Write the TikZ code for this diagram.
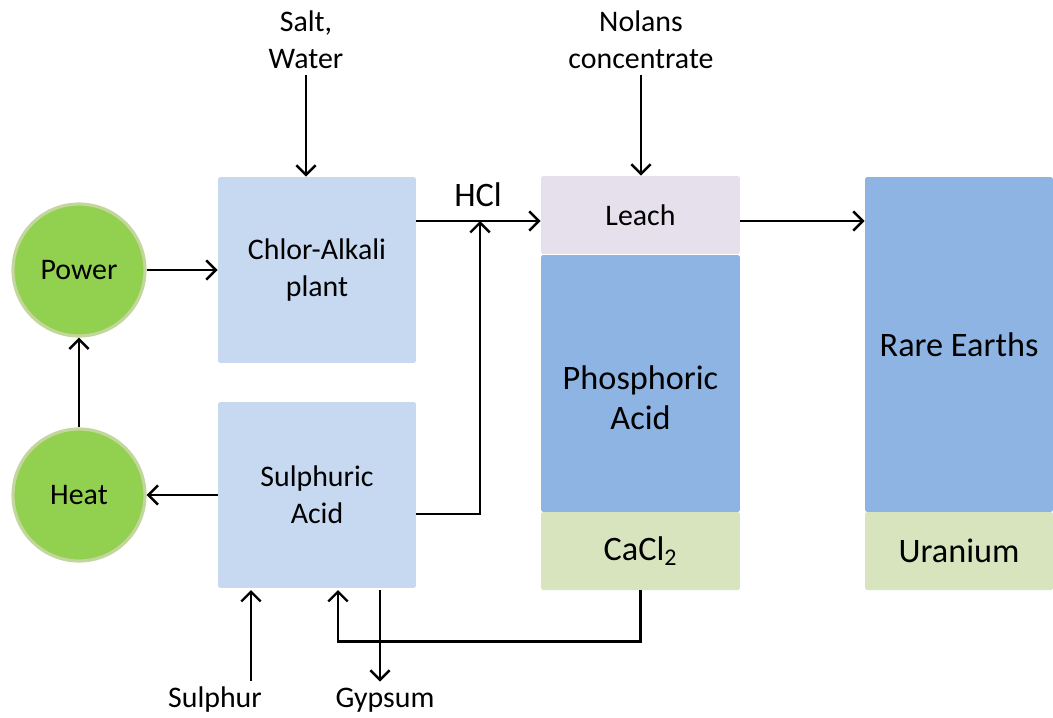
\documentclass[tikz,border=0pt]{standalone}
\usepackage{fontspec}
\setmainfont{Carlito}
\usepackage{tikz}
\usetikzlibrary{arrows.meta,calc,positioning}

\definecolor{boxblue}{HTML}{C6D9F1}
\definecolor{deepblue}{HTML}{8EB4E3}
\definecolor{leachcol}{HTML}{E5E0EC}
\definecolor{palegreen}{HTML}{D7E4BD}
\definecolor{ballgreen}{HTML}{92D050}
\definecolor{ringgreen}{HTML}{C3D69B}

\tikzset{
  proc/.style={fill=boxblue,rounded corners=1pt,minimum width=3.96cm,minimum height=3.72cm,align=center,font=\fontsize{17}{21}\selectfont,inner sep=0pt},
  layer/.style={rounded corners=1pt,minimum width=#1,inner sep=0pt,align=center},
  ball/.style={circle,fill=ballgreen,draw=ringgreen,line width=1.8pt,minimum size=2.64cm,font=\fontsize{17}{21}\selectfont},
  lbl/.style={align=center,font=\fontsize{17}{21}\selectfont},
  flow/.style={-{Straight Barb[length=5.5pt,width=11pt]},line width=1.4pt}
}

\begin{document}
\begin{tikzpicture}[x=0.02cm,y=-0.02cm]
\useasboundingbox (0,0) rectangle (1053,717);

\node[ball] (power) at (79,270) {Power};
\node[ball] (heat) at (79,495) {Heat};

\node[proc] (chlor) at (317,270) {Chlor-Alkali\\plant};
\node[proc] (sulph) at (317,495) {Sulphuric\\Acid};

\node[layer=3.98cm,fill=leachcol,minimum height=1.56cm,font=\fontsize{17}{21}\selectfont] (leach) at (640.5,215) {Leach};
\node[layer=3.98cm,fill=deepblue,minimum height=5.14cm,
  label={[align=center,yshift=-0.28cm,font=\fontsize{19.5}{23}\selectfont]center:Phosphoric\\Acid}] (phos) at (640.5,383.5) {};
\node[layer=3.98cm,fill=palegreen,minimum height=1.56cm,font=\fontsize{19.5}{23}\selectfont] (cacl) at (640.5,551) {CaCl\textsubscript{2}};

\node[layer=3.76cm,fill=deepblue,minimum height=6.7cm,font=\fontsize{19.5}{23}\selectfont] (rare) at (959,344.5) {Rare Earths};
\node[layer=3.76cm,fill=palegreen,minimum height=1.56cm,font=\fontsize{19.5}{23}\selectfont] (uran) at (959,551) {Uranium};

\node[lbl] (salt) at (306,40) {Salt,\\Water};
\node[lbl] (nolans) at (641,40) {Nolans\\concentrate};
\node[lbl,font=\fontsize{19.5}{23}\selectfont] (hcllbl) at (478,195) {HCl};
\node[lbl] (sulphur) at (215,700) {Sulphur};
\node[lbl] (gypsum) at (385,700) {Gypsum};

\coordinate (hcl) at (480,221);
\coordinate (sin) at (251,590);
\coordinate (gyp) at (380,590);
\coordinate (ret) at (338,590);

\draw[flow] (power) -- (chlor);
\draw[flow] (heat) -- (power);
\draw[flow] (sulph.west |- heat) -- (heat);
\draw[flow] (salt.south) -- (salt.south |- chlor.north);
\draw[flow] (nolans.south) -- (nolans.south |- leach.north);
\draw[flow] (chlor.east |- hcl) -- (leach.west |- hcl);
\draw[flow] (sulph.east |- 0,514) -| (hcl);
\draw[flow] (leach.east |- hcl) -- (rare.west |- hcl);
\draw[flow] (sin |- sulphur.north) -- (sin);
\draw[flow] (gyp) -- (gyp |- gypsum.north);
\draw[flow] (cacl.south) -- ++(0,51) -| (ret);
\end{tikzpicture}
\end{document}
